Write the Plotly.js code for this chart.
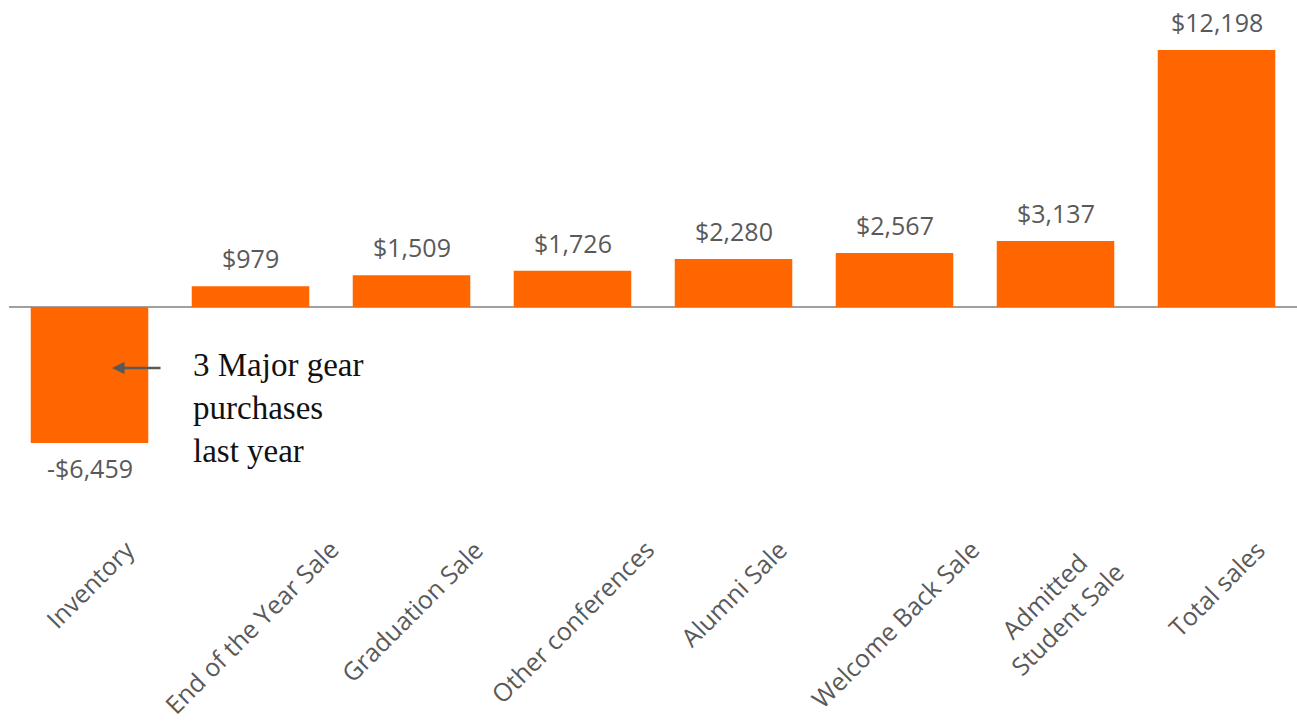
<!DOCTYPE html>
<html>
<head>
<meta charset="utf-8">
<script src="https://cdn.plot.ly/plotly-3.0.1.min.js"></script>
<style>html,body{margin:0;padding:0;background:#fff;}#chart{width:1297px;height:723px;}</style>
</head>
<body>
<div id="chart"></div>
<script>
const categories = ["Inventory", "End of the Year Sale", "Graduation Sale", "Other conferences", "Alumni Sale", "Welcome Back Sale", "Admitted Student Sale", "Total sales"];
const tickLabels = ["Inventory", "End of the Year Sale", "Graduation Sale", "Other conferences", "Alumni Sale", "Welcome Back Sale", "Admitted<br>Student Sale", "Total sales"];
const values = [-6459, 979, 1509, 1726, 2280, 2567, 3137, 12198];
const valueLabels = ["-$6,459", "$979", "$1,509", "$1,726", "$2,280", "$2,567", "$3,137", "$12,198"];
const noteText = "3 Major gear<br>purchases<br>last year";

const sans = "'Open Sans', Lato, sans-serif";

const trace = {
  type: "bar",
  x: categories,
  y: values,
  marker: {color: "#FF6600"},
  hoverinfo: "none"
};

const annotations = [];
// value labels
categories.forEach((c, i) => {
  const neg = values[i] < 0;
  annotations.push({
    xref: "x", yref: "y", x: c, y: values[i],
    text: valueLabels[i], showarrow: false,
    xanchor: "center", yanchor: neg ? "top" : "bottom",
    yshift: neg ? -6 : 9,
    font: {family: sans, size: 25, color: "#595959"}
  });
});
// rotated category labels, centered on their category
categories.forEach((c, i) => {
  annotations.push({
    xref: "x", yref: "paper", x: c, y: 0.01,
    text: tickLabels[i], showarrow: false, textangle: -45,
    xanchor: "center", yanchor: "top", align: "center",
    font: {family: sans, size: 25, color: "#595959"}
  });
});
// arrow and note
annotations.push({
  xref: "x", yref: "y", x: 0.14, y: -2895,
  text: "", showarrow: true, arrowhead: 2, arrowsize: 1, arrowwidth: 2.5,
  arrowcolor: "#595959", ax: 50, ay: 0
});
annotations.push({
  xref: "x", yref: "y", x: 0.63, y: -4794,
  xanchor: "left", yanchor: "middle", align: "left",
  text: noteText, showarrow: false,
  font: {family: "'Liberation Serif', serif", size: 33, color: "#111"}
});

const layout = {
  width: 1297, height: 723,
  margin: {l: 9, r: 0, t: 10, b: 188},
  paper_bgcolor: "#fff", plot_bgcolor: "#fff",
  bargap: 0.27,
  showlegend: false,
  font: {family: sans, color: "#595959"},
  xaxis: {
    type: "category",
    showticklabels: false, showline: false, showgrid: false, ticks: "", automargin: false
  },
  yaxis: {
    range: [-10821, 14096],
    showticklabels: false, showgrid: false, showline: false, ticks: "",
    zeroline: true, zerolinecolor: "#a0a0a0", zerolinewidth: 2
  },
  annotations: annotations
};

Plotly.newPlot("chart", [trace], layout, {displayModeBar: false, staticPlot: true});
</script>
</body>
</html>
